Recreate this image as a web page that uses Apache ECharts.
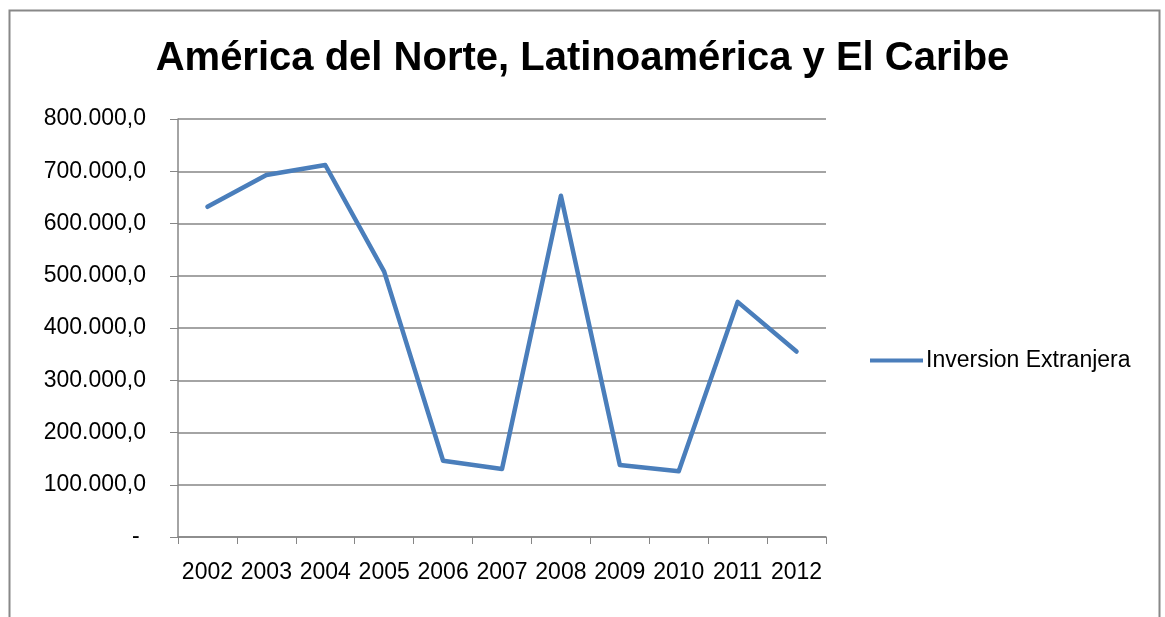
<!DOCTYPE html>
<html>
<head>
<meta charset="utf-8">
<script src="https://cdn.jsdelivr.net/npm/echarts@6/dist/echarts.min.js"></script>
<style>
html,body{margin:0;padding:0;background:#fff;}
#main{width:1165px;height:617px;}
</style>
</head>
<body>
<div id="main"></div>
<script>
var years = ['2002','2003','2004','2005','2006','2007','2008','2009','2010','2011','2012'];
var inversion = [632000, 693000, 712000, 508000, 146000, 130000, 653000, 138000, 126000, 450000, 355000];
var seriesName = 'Inversion Extranjera';

var font = '"Liberation Sans", Arial, sans-serif';

// excel style: 800.000,0 and "-" for zero
function fmt(v) {
    if (v === 0) return '- ';
    return String(v).replace(/\B(?=(\d{3})+(?!\d))/g, '.') + ',0';
}

var myChart = echarts.init(document.getElementById('main'));

var option = {
    backgroundColor: '#fff',
    animation: false,
    title: {
        text: 'América del Norte, Latinoamérica y El Caribe',
        left: 'center',
        top: 34,
        textStyle: {fontFamily: font, fontSize: 40, fontWeight: 'bold', color: '#000'}
    },
    graphic: [{
        type: 'rect',
        shape: {x: 9.5, y: 10.5, width: 1150, height: 640},
        style: {fill: null, stroke: '#888', lineWidth: 2}
    }],
    legend: {
        data: [seriesName],
        left: 865,
        top: 344,
        icon: 'rect',
        itemWidth: 53,
        itemHeight: 4,
        textStyle: {fontFamily: font, fontSize: 23, color: '#000', padding: [0, 0, 0, -2]}
    },
    grid: {left: 178, right: 339, top: 119, bottom: 80, containLabel: false},
    xAxis: {
        type: 'category',
        data: years,
        boundaryGap: true,
        axisLine: {lineStyle: {color: '#868686', width: 1.5}},
        axisTick: {show: true, length: 7, lineStyle: {color: '#868686'}},
        axisLabel: {interval: 0, fontFamily: font, fontSize: 23, color: '#000', margin: 24}
    },
    yAxis: {
        type: 'value',
        min: 0,
        max: 800000,
        interval: 100000,
        axisLine: {show: true, lineStyle: {color: '#868686', width: 1.5}},
        axisTick: {show: true, length: 8, lineStyle: {color: '#868686'}},
        splitLine: {lineStyle: {color: '#868686', width: 1.5}},
        axisLabel: {fontFamily: font, fontSize: 23, color: '#000', margin: 32, formatter: fmt}
    },
    series: [{
        name: seriesName,
        type: 'line',
        data: inversion,
        symbol: 'none',
        lineStyle: {color: '#4A7EBB', width: 4.5, cap: 'round', join: 'round'},
        itemStyle: {color: '#4A7EBB'}
    }]
};

myChart.setOption(option);
window.onresize = function () {
    myChart.resize();
};
</script>
</body>
</html>
